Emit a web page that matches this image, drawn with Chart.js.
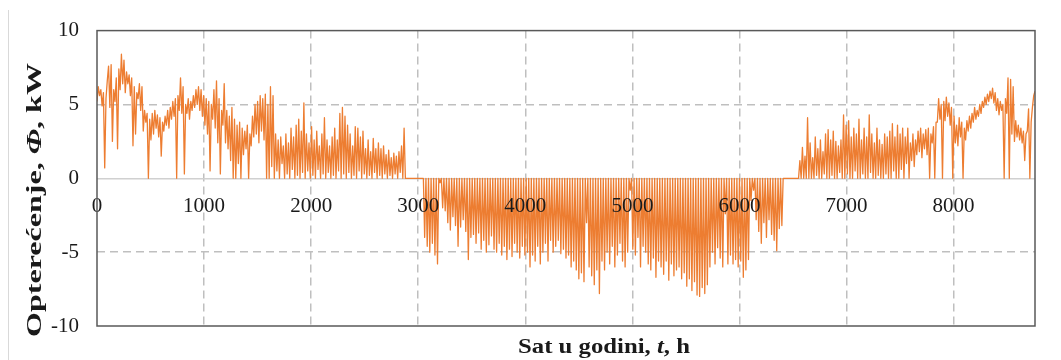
<!DOCTYPE html>
<html><head><meta charset="utf-8">
<script src="https://cdn.jsdelivr.net/npm/chart.js@4.4.0/dist/chart.umd.min.js"></script>
<style>html,body{margin:0;padding:0;background:#fff;}#wrap{width:1061px;height:360px;position:relative;}</style>
</head><body><div id="wrap"><canvas id="c" width="1061" height="360"></canvas></div>
<script>
// read-off values every 12 hours (two per day), kW
const HOUR_STEP = 12;

// winter heating, hours 0..1596
const winterStart = 0;
const winterLoad = [
  5.2,6.2, 5.6,6.0, 4.9,5.8, 0.7,5.4, 6.6,7.6, 4.8,7.7, 2.5,6.0, 5.2,6.8, 2.0,7.4, 6.0,8.4,
  6.4,8.0, 5.8,7.2, 6.4,7.0, 5.6,6.8, 2.2,6.2, 3.0,5.8, 5.4,6.4, 4.6,6.2, 3.2,4.6, 3.8,4.4,
  0.0,4.0, 2.6,4.4, 3.0,4.6, 3.4,4.3, 2.8,4.1, 1.5,3.8, 3.2,4.2, 3.6,4.6, 3.4,4.8, 4.0,5.2,
  4.2,5.4, 0.0,5.6, 4.6,6.8, 4.4,6.2, 0.3,5.0, 4.4,5.4, 4.0,5.2, 4.6,5.6, 4.8,6.0, 5.0,6.2,
  4.6,6.0, 4.2,5.6, 3.6,5.4, 3.0,5.2, 0.5,5.0, 4.0,6.0, 3.4,6.6, 2.4,5.4, 0.3,4.6, 3.6,6.4,
  2.4,4.6, 2.0,4.2, 1.2,4.8, 0.0,4.0, 0.0,3.6, 1.0,3.8, 0.0,3.4, 1.6,3.2, 2.0,3.6, 0.0,3.0,
  2.2,4.2, 2.8,5.0, 3.0,5.2, 2.4,5.6, 3.2,5.4, 2.6,5.7, 0.0,5.0
];

// spring heating, hours 1608..2868
const springStart = 1608;
const springLoad = [
  0.0,6.2, 0.8,5.6, 0.0,3.0, 0.5,2.6, 0.0,2.8, 1.0,2.2, 0.0,3.0, 0.3,2.4, 0.0,3.4, 0.6,2.8,
  0.0,3.6, 0.2,4.0, 0.0,3.2, 0.4,5.1, 0.0,3.0, 0.5,2.4, 0.0,3.5, 0.2,2.6, 0.0,3.2, 0.6,2.2,
  0.0,3.0, 0.3,4.1, 0.0,2.6, 0.4,2.2, 0.0,2.8, 0.2,3.4, 0.0,2.6, 0.5,4.4, 0.0,4.8, 0.3,4.2,
  0.0,3.6, 0.4,3.0, 0.0,2.2, 0.2,3.5, 0.0,3.4, 0.5,2.8, 0.0,3.2, 0.3,2.0, 0.0,2.6, 0.2,1.8,
  0.0,2.7, 0.4,2.0, 0.0,2.4, 0.2,2.0, 0.0,2.2, 0.3,1.6, 0.0,1.9, 0.2,1.4, 0.0,1.7, 0.3,1.5,
  0.0,1.8, 0.4,2.2, 0.0,3.4
];

// summer cooling (negative), hours 2880..6540
const summerStart = 2880;
const summerLoad = [
  0,0, 0,0, 0,0, 0,0, 0,0, 0,0, 0,0,
  0,-4.0, 0,-4.6, 0,-5.0, 0,-4.4, 0,-5.2, 0,-5.8, 0,-0.3, 0,-2.0, 0,-2.2, 0,-3.0,
  0,-3.5, 0,-2.6, 0,-3.2, 0,-4.6, 0,-3.3, 0,-2.8, 0,-3.6, 0,-5.5, 0,-4.0, 0,-3.8,
  0,-4.4, 0,-3.7, 0,-4.8, 0,-4.2, 0,-5.0, 0,-4.5, 0,-3.9, 0,-4.8, 0,-5.0, 0,-4.4,
  0,-5.2, 0,-4.6, 0,-5.5, 0,-4.8, 0,-5.3, 0,-4.4, 0,-5.0, 0,-5.4, 0,-4.6, 0,-5.2,
  0,-5.0, 0,-6.0, 0,-5.2, 0,-5.6, 0,-4.6, 0,-5.8, 0,-5.0, 0,-4.4, 0,-5.6, 0,-4.2,
  0,-5.0, 0,-4.6, 0,-4.2, 0,-5.1, 0,-4.8, 0,-5.4, 0,-5.2, 0,-6.0, 0,-5.6, 0,-6.2,
  0,-6.8, 0,-6.4, 0,-7.0, 0,-3.0, 0,-6.0, 0,-6.6, 0,-7.2, 0,-6.2, 0,-7.8, 0,-5.6,
  0,-6.2, 0,-5.0, 0,-5.8, 0,-4.6, 0,-6.0, 0,-5.2, 0,-4.4, 0,-5.6, 0,-6.0, 0,-5.0,
  0,-0.8, 0,-4.8, 0,-5.2, 0,-4.0, 0,-6.0, 0,-4.6, 0,-5.0, 0,-5.8, 0,-6.2, 0,-5.4,
  0,-6.7, 0,-5.6, 0,-6.0, 0,-6.5, 0,-5.6, 0,-6.9, 0,-5.8, 0,-6.6, 0,-6.2, 0,-6.0,
  0,-6.8, 0,-6.4, 0,-7.3, 0,-6.8, 0,-7.6, 0,-7.0, 0,-7.9, 0,-8.0, 0,-7.4, 0,-7.8,
  0,-7.2, 0,-6.0, 0,-5.0, 0,-5.8, 0,-4.7, 0,-5.4, 0,-6.0, 0,-2.4, 0,-5.8, 0,-5.2,
  0,-5.8, 0,-5.5, 0,-6.0, 0,-5.6, 0,-6.7, 0,-6.2, 0,-5.5, 0,-1.5, 0,-0.8, 0,-2.8,
  0,-3.6, 0,-4.4, 0,-3.0, 0,-4.0, 0,-2.8, 0,-3.8, 0,-4.2, 0,-4.9, 0,-3.4, 0,-3.2,
  0,0, 0,0, 0,0, 0,0, 0,0, 0,0
];

// autumn heating, hours 6552..7788
const autumnStart = 6552;
const autumnLoad = [
  0.0,1.2, 0.0,2.1, 0.0,1.5, 0.0,4.1, 0.0,2.4, 0.0,1.4, 0.0,2.8, 0.2,2.0, 0.0,2.6, 0.0,1.8,
  0.3,3.0, 0.0,3.3, 0.0,2.6, 0.2,3.2, 0.0,2.5, 0.0,2.2, 0.4,2.6, 0.0,4.3, 0.0,3.6, 0.3,3.9,
  0.0,2.8, 0.0,3.4, 0.5,3.0, 0.0,4.0, 0.0,2.6, 0.3,3.4, 0.0,2.8, 0.0,4.3, 0.4,3.0, 0.0,2.4,
  0.0,3.4, 0.2,2.6, 0.0,2.3, 0.0,3.0, 0.3,2.8, 0.0,3.2, 0.0,3.7, 0.5,2.8, 0.0,3.6, 0.0,3.0,
  0.6,3.4, 0.0,2.8, 1.0,3.4, 0.0,2.4, 1.2,3.0, 0.8,2.6, 1.6,3.2, 1.8,3.4, 1.4,3.0, 2.0,3.3,
  1.6,3.4, 0.0,3.0
];

// early winter heating, hours 7800..8760
const decemberStart = 7800;
const decemberLoad = [
  2.4,3.5, 0.0,3.8, 3.8,5.4, 4.0,5.0, 0.0,5.2, 3.9,5.5, 4.2,5.1, 3.6,4.8, 0.0,4.2, 2.4,3.6,
  2.2,4.1, 2.8,3.8, 0.0,3.4, 2.6,3.9, 3.2,4.2, 3.4,4.4, 3.8,4.8, 4.0,4.6, 4.2,5.0, 4.4,5.2,
  4.8,5.5, 5.0,5.7, 5.2,5.9, 5.4,6.1, 5.1,5.8, 4.6,5.4, 4.3,5.2, 4.6,5.0, 0.0,5.4, 4.4,6.8,
  0.0,6.7, 3.0,6.2, 2.5,3.9, 2.8,3.6, 2.6,3.4, 2.4,3.2, 1.2,3.0, 3.2,4.7, 0.0,3.8, 4.8,5.6,
  5.9
];

const xTickValues = [0, 1000, 2000, 3000, 4000, 5000, 6000, 7000, 8000];
const yTickValues = [-10, -5, 0, 5, 10];
const xTitleParts = [['Sat u godini, ', false], ['t', true], [', h', false]];
const yTitleParts = [['Opterećenje, ', false], ['Φ', true], [', kW', false]];

function toPoints(start, arr) { return arr.map((v, i) => ({ x: start + i * HOUR_STEP, y: v })); }
const points = [].concat(
  toPoints(winterStart, winterLoad), toPoints(springStart, springLoad), toPoints(summerStart, summerLoad),
  toPoints(autumnStart, autumnLoad), toPoints(decemberStart, decemberLoad));

const FONT = '"Liberation Serif", "Times New Roman", serif';
const TICK_FONT = { family: FONT, size: 21 };

function drawParts(ctx, parts, size, targetWidth) {
  let total = 0;
  const fonts = parts.map(([t, it]) => (it ? 'italic ' : '') + 'bold ' + size + 'px ' + FONT);
  const widths = parts.map(([t], i) => { ctx.font = fonts[i]; const w = ctx.measureText(t).width; total += w; return w; });
  ctx.scale(targetWidth / total, 1);
  let x = -total / 2;
  parts.forEach(([t], i) => { ctx.font = fonts[i]; ctx.fillText(t, x, 0); x += widths[i]; });
}

const decor = {
  id: 'decor',
  afterDraw(chart) {
    const ctx = chart.ctx, a = chart.chartArea;
    ctx.save();
    ctx.strokeStyle = '#d9d9d9'; ctx.lineWidth = 1;
    ctx.beginPath(); ctx.moveTo(8.5, 10); ctx.lineTo(8.5, 360); ctx.stroke();
    ctx.strokeStyle = '#595959'; ctx.lineWidth = 1.5;
    ctx.strokeRect(a.left, a.top, a.right - a.left, a.bottom - a.top);
    ctx.fillStyle = '#1a1a1a'; ctx.textBaseline = 'alphabetic'; ctx.textAlign = 'left';
    ctx.save(); ctx.translate(604, 353); drawParts(ctx, xTitleParts, 22, 172); ctx.restore();
    ctx.save(); ctx.translate(41, 200); ctx.rotate(-Math.PI / 2); drawParts(ctx, yTitleParts, 21, 274); ctx.restore();
    ctx.restore();
  }
};

new Chart(document.getElementById('c'), {
  type: 'line',
  data: { datasets: [{ data: points, borderColor: '#ED7D31', borderWidth: 1.3, pointRadius: 0, tension: 0, borderJoinStyle: 'round', fill: false }] },
  options: {
    responsive: false, animation: false, events: [],
    layout: { padding: { left: 0, right: 26, top: 28, bottom: 34 } },
    plugins: { legend: { display: false }, tooltip: { enabled: false } },
    scales: {
      x: {
        type: 'linear', min: 0, max: 8760, position: { y: 0 },
        afterBuildTicks: s => { s.ticks = xTickValues.map(v => ({ value: v })); },
        grid: { z: -1, drawTicks: false, lineWidth: 1.5, color: c => (c.tick && c.tick.value === 0) ? 'rgba(0,0,0,0)' : '#bfbfbf' },
        border: { display: false, dash: [8, 5] },
        ticks: { z: 1, font: TICK_FONT, color: '#1a1a1a', padding: 16, maxRotation: 0, autoSkip: false, callback: v => String(v) }
      },
      y: {
        type: 'linear', min: -10, max: 10,
        afterBuildTicks: s => { s.ticks = yTickValues.map(v => ({ value: v })); },
        afterFit: s => { s.width = 97; },
        grid: { drawTicks: false, lineWidth: 1.5, color: c => { const v = c.tick && c.tick.value; return v === 0 ? '#d0d0d0' : (Math.abs(v) === 10 ? 'rgba(0,0,0,0)' : '#bfbfbf'); } },
        border: { display: false, dash: c => (c.tick && c.tick.value === 0) ? [] : [8, 5] },
        ticks: { font: TICK_FONT, color: '#1a1a1a', padding: 18, callback: v => String(v) }
      }
    }
  },
  plugins: [decor]
});
</script></body></html>
